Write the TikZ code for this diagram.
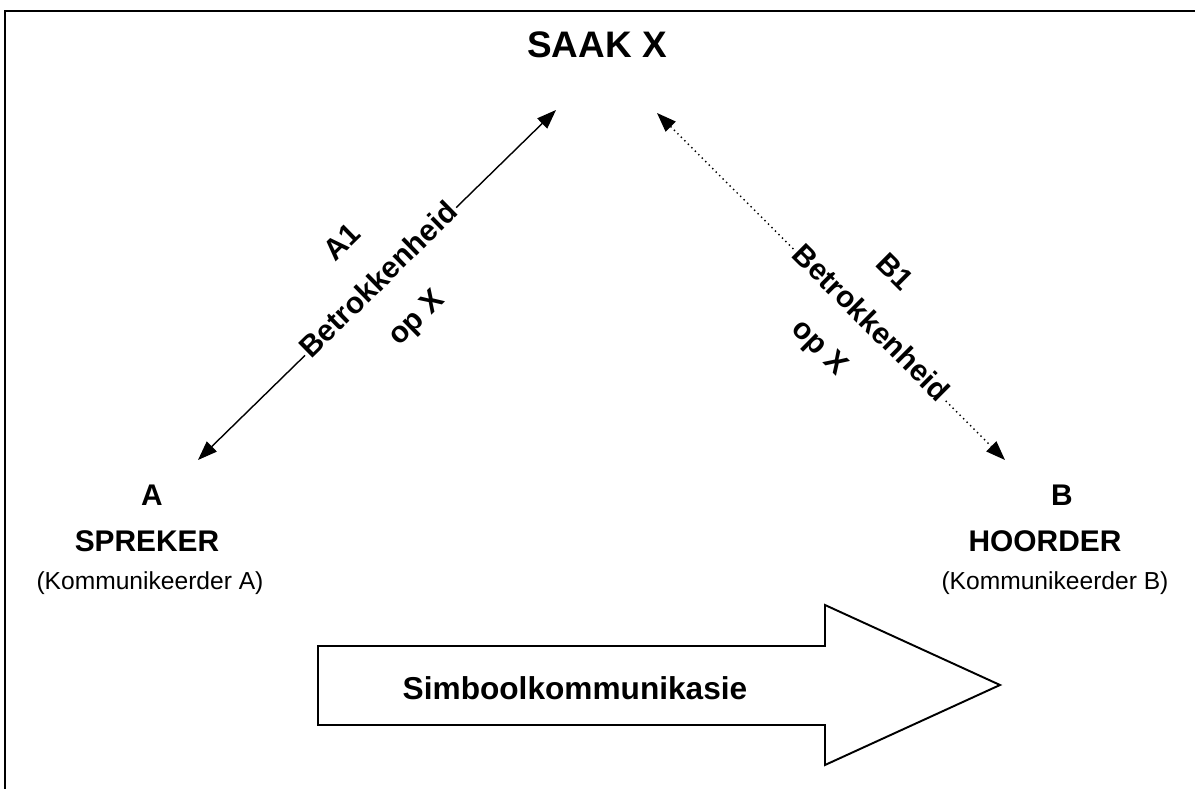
\documentclass[tikz,border=0pt]{standalone}
\usepackage{fontspec}
\setmainfont{Liberation Sans}
\usetikzlibrary{arrows.meta, calc}

\begin{document}
\begin{tikzpicture}[
    link/.style={line width=0.8pt, {Triangle[length=11pt, width=8pt]}-{Triangle[length=11pt, width=8pt]}},
    lbl/.style={font=\fontsize{17}{20}\selectfont\bfseries, inner sep=1pt, align=center},
    role/.style={font=\fontsize{17}{20}\selectfont\bfseries},
    who/.style={font=\fontsize{14}{17}\selectfont}
  ]
  \useasboundingbox (0,0) rectangle (23.9,15.76);

  % Frame (runs off the right and bottom edge)
  \draw[line width=1.3pt] (0.1,-1) -- (0.1,15.54) -- (25,15.54);

  % The matter
  \node[font=\fontsize{21}{25}\selectfont\bfseries] (saak) at (11.94,14.86) {SAAK X};

  % Speaker A
  \node[role] (a) at (3.04,5.86) {A};
  \node[role] (spreker) at (2.94,4.94) {SPREKER};
  \node[who] (komA) at (3.0,4.1) {(Kommunikeerder A)};

  % Listener B
  \node[role] (b) at (21.24,5.86) {B};
  \node[role] (hoorder) at (20.9,4.94) {HOORDER};
  \node[who] (komB) at (21.1,4.1) {(Kommunikeerder B)};

  % Arrow ends
  \coordinate (ta) at (3.96,6.56);
  \coordinate (xa) at (11.12,13.56);
  \coordinate (xb) at (13.14,13.5);
  \coordinate (tb) at (20.1,6.56);

  % A1: involvement of A with X
  \draw[link] (ta) -- (xa)
    node[lbl, pos=0.51, sloped, fill=white] (betA) {A1\\[10pt]Betrokkenheid\\[10pt]op X};

  % B1: involvement of B with X
  \draw[link, dotted] (xb) -- (tb)
    node[lbl, pos=0.61, sloped, fill=white] (betB)
      {B1\hspace*{22pt}\\[10pt]Betrokkenheid\\[10pt]op X\hspace*{22pt}};

  % Big arrow
  \draw[line width=1.1pt] (6.36,2.84) -- (16.5,2.84) -- (16.5,3.66) -- (20,2.06)
    -- (16.5,0.46) -- (16.5,1.26) -- (6.36,1.26) -- cycle;
  \node[font=\fontsize{18}{22}\selectfont\bfseries] (simbool) at (11.5,2.0) {Simboolkommunikasie};
\end{tikzpicture}
\end{document}
